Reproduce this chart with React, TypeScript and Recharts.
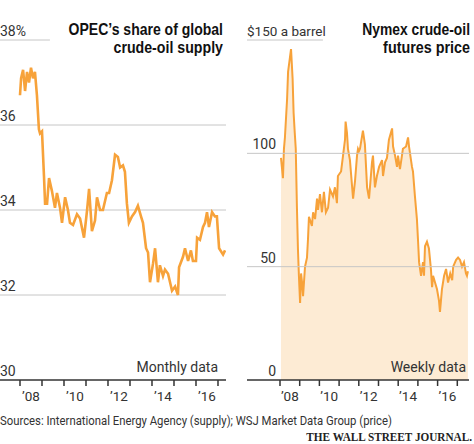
import React from 'react';
import { LineChart, Line, AreaChart, Area, XAxis, YAxis, ReferenceLine } from 'recharts';

// OPEC share of global crude supply, monthly
const opecYears = [
  2008.0, 2008.05, 2008.14, 2008.23, 2008.32, 2008.41, 2008.5, 2008.59, 2008.68, 2008.77,
  2008.86, 2008.91, 2009.0, 2009.09, 2009.14, 2009.23, 2009.32, 2009.45, 2009.59, 2009.68,
  2009.82, 2009.91, 2010.05, 2010.18, 2010.27, 2010.41, 2010.59, 2010.73, 2010.91, 2011.05,
  2011.14, 2011.27, 2011.41, 2011.5, 2011.64, 2011.77, 2011.95, 2012.05, 2012.18, 2012.32,
  2012.45, 2012.55, 2012.68, 2012.77, 2012.86, 2012.95, 2013.09, 2013.23, 2013.36, 2013.5,
  2013.59, 2013.73, 2013.82, 2013.91, 2014.05, 2014.14, 2014.27, 2014.36, 2014.5, 2014.59,
  2014.73, 2014.91, 2015.05, 2015.18, 2015.23, 2015.41, 2015.5, 2015.64, 2015.77, 2015.86,
  2016.0, 2016.05, 2016.18, 2016.32, 2016.41, 2016.5, 2016.59, 2016.73, 2016.86, 2016.95,
  2017.05, 2017.23, 2017.32,
];
const opecShare = [
  36.7, 37.1, 37.3, 36.8, 37.25, 37.0, 37.35, 37.1, 37.25, 36.7,
  35.9, 35.8, 35.85, 34.8, 34.15, 34.15, 34.75, 34.45, 34.05, 34.4,
  34.05, 33.7, 34.3, 34.0, 33.7, 33.65, 33.9, 33.8, 33.35, 34.0,
  34.5, 33.5, 33.75, 34.3, 34.0, 34.0, 34.4, 34.4, 34.7, 35.3,
  35.25, 35.0, 35.05, 34.9, 34.15, 33.7, 33.85, 33.95, 34.1, 33.85,
  33.7, 33.1, 33.0, 32.3, 32.75, 33.1, 32.3, 32.7, 32.45, 32.6,
  32.5, 32.1, 32.2, 32.0, 32.65, 32.9, 33.1, 32.8, 33.05, 32.8,
  32.8, 33.35, 33.3, 33.6, 33.7, 33.95, 33.6, 33.95, 33.85, 33.85,
  33.1, 32.95, 33.05,
];

// Nymex crude futures, weekly
const priceYears = [
  2008.05, 2008.15, 2008.2, 2008.25, 2008.36, 2008.41, 2008.56, 2008.64, 2008.69, 2008.75,
  2008.8, 2008.86, 2008.91, 2008.96, 2009.02, 2009.07, 2009.12, 2009.17, 2009.27, 2009.37,
  2009.42, 2009.47, 2009.62, 2009.68, 2009.78, 2009.88, 2009.93, 2010.03, 2010.13, 2010.23,
  2010.33, 2010.44, 2010.54, 2010.69, 2010.79, 2010.89, 2010.94, 2011.1, 2011.2, 2011.3,
  2011.33, 2011.4, 2011.45, 2011.55, 2011.71, 2011.81, 2011.91, 2011.96, 2012.01, 2012.06,
  2012.21, 2012.31, 2012.42, 2012.52, 2012.67, 2012.72, 2012.82, 2012.92, 2013.03, 2013.18,
  2013.23, 2013.33, 2013.43, 2013.53, 2013.69, 2013.74, 2013.84, 2013.94, 2013.99, 2014.09,
  2014.19, 2014.24, 2014.4, 2014.5, 2014.55, 2014.7, 2014.75, 2014.85, 2014.95, 2015.01,
  2015.06, 2015.16, 2015.26, 2015.31, 2015.36, 2015.46, 2015.56, 2015.66, 2015.72, 2015.77,
  2015.87, 2015.97, 2016.07, 2016.12, 2016.17, 2016.22, 2016.33, 2016.43, 2016.48, 2016.53,
  2016.64, 2016.74, 2016.79, 2016.94, 2017.04, 2017.14, 2017.24, 2017.34, 2017.44, 2017.49,
  2017.54,
];
const priceValues = [
  98, 89, 102, 107, 124, 136, 146, 133, 118, 109,
  102, 76, 58, 46, 34, 47, 43, 37, 50, 54,
  62, 72, 68, 74, 71, 80, 75, 82, 74, 83,
  74, 76, 84, 81, 85, 78, 90, 92, 99, 106,
  114, 109, 102, 97, 80, 88, 99, 102, 101, 102,
  110, 104, 85, 80, 96, 99, 85, 90, 94, 97,
  90, 96, 98, 106, 111, 103, 99, 94, 99, 93,
  99, 102, 103, 107, 103, 94, 92, 81, 71, 61,
  52, 46, 52, 46, 59, 61, 58, 49, 41, 46,
  43, 40, 35, 30, 35, 40, 46, 49, 46, 43,
  47, 44, 50, 53, 54, 53, 50, 52, 47, 46,
  48,
];

const yearTicks = [2008, 2009, 2010, 2011, 2012, 2013, 2014, 2015, 2016, 2017];
const labelTicks = [2008.5, 2010.5, 2012.5, 2014.5, 2016.5];
const shareTicks = [30, 32, 34, 36, 38];
const priceTicks = [0, 50, 100, 150];

const opecData = opecYears.map((year, i) => ({ year, share: opecShare[i] }));
const priceData = priceYears.map((year, i) => ({ year, price: priceValues[i] }));
const xTicks = [...yearTicks, ...labelTicks].sort((a, b) => a - b);

const ORANGE = '#f7a23a';
const GRID = '#c6c6c6';
const AXIS = '#333';
const SANS = 'Roboto, "Liberation Sans", sans-serif';
const BOLD = '"Liberation Sans", Arial, sans-serif';

function YearTick({ x, y, payload }: any) {
  const v = payload.value as number;
  if (Number.isInteger(v)) {
    return <line x1={x} x2={x} y1={y} y2={y + 6} stroke={AXIS} strokeWidth={1.5} />;
  }
  return (
    <text x={x} y={y + 21} textAnchor="middle" fontSize={13.5} fill="#333" fontFamily={SANS}>
      {'\u2019' + String(Math.floor(v)).slice(2)}
    </text>
  );
}

const shareLabel = (v: number) => (props: any) => (
  <text x={0} y={props.viewBox.y - 4} fontSize={14} fill="#333" fontFamily={SANS}>
    {v === 38 ? '38%' : v}
  </text>
);

const priceLabel = (v: number) => (props: any) =>
  v === 150 ? (
    <text x={7} y={props.viewBox.y - 4} fontSize={13.5} fill="#333" fontFamily={SANS}>
      $150 a barrel
    </text>
  ) : (
    <text x={36} y={props.viewBox.y - 4} textAnchor="end" fontSize={14} fill="#333" fontFamily={SANS}>
      {v}
    </text>
  );

// condensed headline text, squeezed horizontally around its anchor
function Squeezed({ x, y, sx, anchor, children, ...rest }: any) {
  return (
    <text transform={`translate(${x},${y}) scale(${sx},1)`} x={0} y={0} textAnchor={anchor} {...rest}>
      {children}
    </text>
  );
}

export default function App() {
  return (
    <div style={{ position: 'absolute', left: 0, top: 0, width: 474, height: 444, background: '#fff' }}>
      <div style={{ position: 'absolute', left: 0, top: 0 }}>
        <LineChart width={230} height={410} data={opecData} margin={{ top: 40, right: 4, left: 0, bottom: 0 }}>
          {shareTicks.map((v) => (
            <ReferenceLine
              key={v}
              y={v}
              stroke={v === 30 || v === 38 ? 'none' : GRID}
              strokeWidth={1}
              label={shareLabel(v)}
            />
          ))}
          <ReferenceLine segment={[{ x: 2007.091, y: 38 }, { x: 2009.36, y: 38 }]} stroke={GRID} />
          <XAxis
            dataKey="year"
            type="number"
            domain={[2007.091, 2017.364]}
            ticks={xTicks}
            interval={0}
            height={30}
            tickSize={0}
            tickMargin={0}
            tickLine={false}
            axisLine={{ stroke: AXIS, strokeWidth: 1.5 }}
            tick={<YearTick />}
            allowDataOverflow
          />
          <YAxis type="number" domain={[30, 38]} ticks={shareTicks} hide />
          <Line type="linear" dataKey="share" stroke={ORANGE} strokeWidth={2.6} dot={false} isAnimationActive={false} />
        </LineChart>
      </div>
      <div style={{ position: 'absolute', left: 240, top: 0 }}>
        <AreaChart width={232} height={410} data={priceData} margin={{ top: 40, right: 3, left: 7, bottom: 0 }}>
          {priceTicks.map((v) => (
            <ReferenceLine
              key={v}
              y={v}
              stroke={v === 0 || v === 150 ? 'none' : GRID}
              strokeWidth={1}
              label={priceLabel(v)}
            />
          ))}
          <ReferenceLine segment={[{ x: 2006.325, y: 150 }, { x: 2010.18, y: 150 }]} stroke={GRID} />
          <XAxis
            dataKey="year"
            type="number"
            domain={[2006.325, 2017.594]}
            ticks={xTicks}
            interval={0}
            height={30}
            tickSize={0}
            tickMargin={0}
            tickLine={false}
            axisLine={{ stroke: AXIS, strokeWidth: 1.5 }}
            tick={<YearTick />}
            allowDataOverflow
          />
          <YAxis type="number" domain={[0, 150]} ticks={priceTicks} hide />
          <Area
            type="linear"
            dataKey="price"
            stroke={ORANGE}
            strokeWidth={2}
            fill={ORANGE}
            fillOpacity={0.22}
            isAnimationActive={false}
          />
        </AreaChart>
      </div>
      <svg width={474} height={444} style={{ position: 'absolute', left: 0, top: 0, pointerEvents: 'none' }}>
        <g fontFamily={BOLD} fontWeight="bold" fontSize={16.5} fill="#111">
          <Squeezed x={223} y={35} sx={0.85} anchor="end">OPEC’s share of global</Squeezed>
          <Squeezed x={223} y={53} sx={0.86} anchor="end">crude-oil supply</Squeezed>
          <Squeezed x={470} y={35} sx={0.84} anchor="end">Nymex crude-oil</Squeezed>
          <Squeezed x={470} y={53} sx={0.87} anchor="end">futures price</Squeezed>
        </g>
        <g fontFamily={SANS} fontSize={14} fill="#333">
          <text x={218} y={372} textAnchor="end">Monthly data</text>
          <text x={466} y={372} textAnchor="end">Weekly data</text>
          <text x={0} y={425} fontSize={13} textLength={392} lengthAdjust="spacingAndGlyphs">
            Sources: International Energy Agency (supply); WSJ Market Data Group (price)
          </text>
        </g>
        <Squeezed
          x={472}
          y={441}
          sx={0.865}
          anchor="end"
          fontFamily='"Liberation Serif", "DejaVu Serif", serif'
          fontWeight="bold"
          fontSize={13}
          fill="#222"
        >
          THE WALL STREET JOURNAL.
        </Squeezed>
      </svg>
    </div>
  );
}
